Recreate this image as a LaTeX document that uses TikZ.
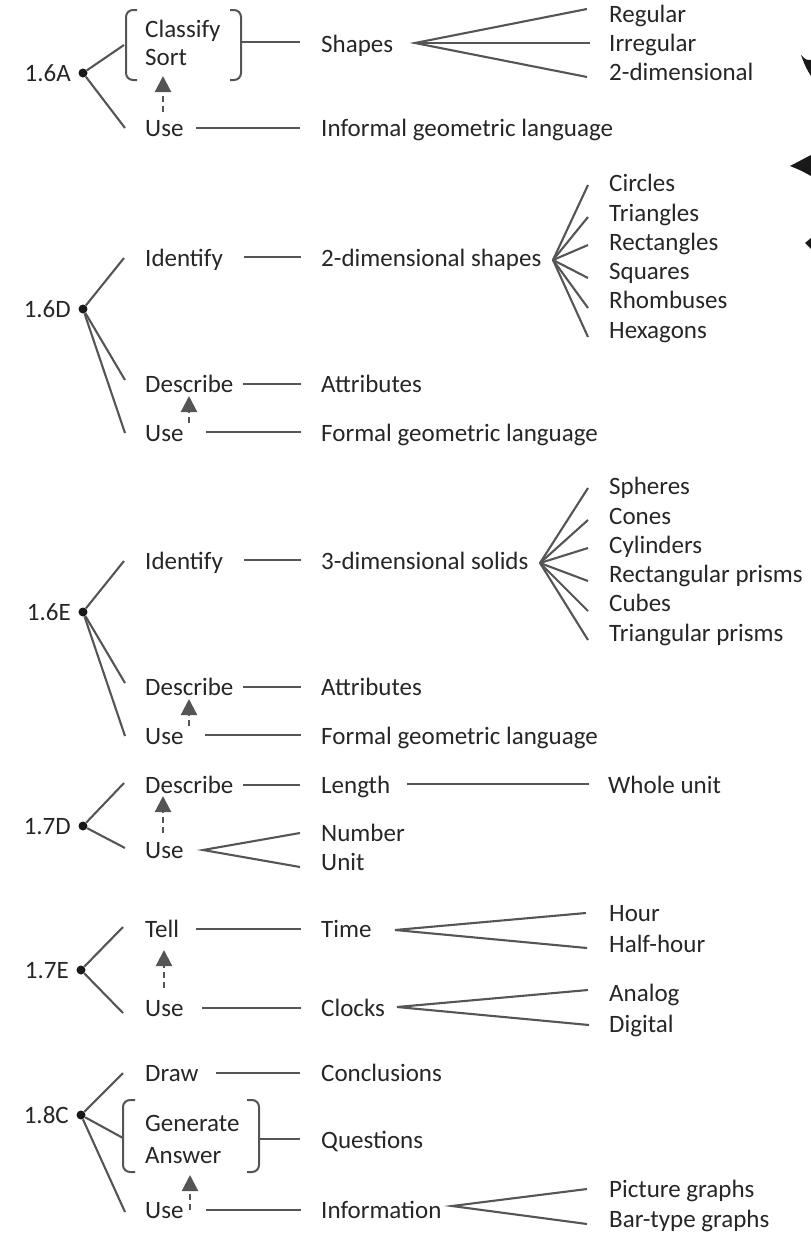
\documentclass[tikz,border=0pt]{standalone}
\usepackage{fontspec}
\setmainfont{Carlito}
\usetikzlibrary{arrows.meta}
\definecolor{txt}{HTML}{262626}
\definecolor{ln}{HTML}{555555}
\begin{document}
\begin{tikzpicture}[x=1pt,y=-1pt,
  lbl/.style={anchor=mid west, inner sep=0pt, yshift=-6pt, text=txt, font=\fontsize{25}{30}\selectfont},
  code/.style={anchor=mid east, inner sep=0pt, yshift=-6pt, text=txt, font=\fontsize{25}{30}\selectfont},
  conn/.style={draw=ln, line width=2.1pt},
  brk/.style={draw=ln, line width=2pt, rounded corners=7pt},
  dep/.style={draw=ln, line width=2.2pt, dash pattern=on 6pt off 4pt, -{Triangle[width=16pt,length=16pt]}},
  hub/.style={circle, fill=black!90, inner sep=0pt, minimum size=9pt},
  blot/.style={fill=black!90}]
\path[use as bounding box] (0,0) rectangle (811,1234);

% ================= 1.6A =================
\node[code] (c16a) at (71,73) {1.6A};
\node[hub] (h16a) at (83,73) {};
\node[lbl] (classify) at (145,29) {Classify};
\node[lbl] (sort) at (145,57) {Sort};
\node[lbl] (useA) at (145,128) {Use};
\node[lbl] (shapes) at (321,44) {Shapes};
\node[lbl] (informal) at (321,128) {Informal geometric language};
\node[lbl] (regular) at (609,14) {Regular};
\node[lbl] (irregular) at (609,43) {Irregular};
\node[lbl] (twodim) at (609,72) {2-dimensional};
\draw[brk] (137,10) -- (126,10) -- (126,80) -- (137,80);
\draw[brk] (230,10) -- (241,10) -- (241,80) -- (230,80);
\coordinate (bAl) at (124,45);
\coordinate (bAr) at (241,42);
\coordinate (useAl) at (125,128);
\coordinate (useAr) at (196,128);
\coordinate (infA) at (300,128);
\coordinate (shA) at (300,42);
\coordinate (fanA) at (415,43);
\coordinate (regA) at (587,9);
\coordinate (irrA) at (590,43);
\coordinate (twoA) at (587,77);
\draw[conn] (h16a) -- (bAl);
\draw[conn] (h16a) -- (useAl);
\draw[conn] (bAr) -- (shA);
\draw[conn] (useAr) -- (infA);
\draw[conn] (regA) -- (fanA) -- (twoA);
\draw[conn] (fanA) -- (irrA);
\coordinate (arAb) at (163,112);
\coordinate (arAt) at (163,76);
\draw[dep] (arAb) -- (arAt);

% ================= 1.6D =================
\node[code] (c16d) at (71,309) {1.6D};
\node[hub] (h16d) at (83,309) {};
\node[lbl] (identD) at (145,258) {Identify};
\node[lbl] (descD) at (145,384) {Describe};
\node[lbl] (useD) at (145,433) {Use};
\node[lbl] (twoshapes) at (321,258) {2-dimensional shapes};
\node[lbl] (attrD) at (321,384) {Attributes};
\node[lbl] (formalD) at (321,433) {Formal geometric language};
\node[lbl] (circles) at (609,183) {Circles};
\node[lbl] (triangles) at (609,213) {Triangles};
\node[lbl] (rectangles) at (609,242) {Rectangles};
\node[lbl] (squares) at (609,271) {Squares};
\node[lbl] (rhombuses) at (609,300) {Rhombuses};
\node[lbl] (hexagons) at (609,330) {Hexagons};
\coordinate (idDl) at (124,258);
\coordinate (deDl) at (125,380);
\coordinate (usDl) at (125,433);
\draw[conn] (h16d) -- (idDl);
\draw[conn] (h16d) -- (deDl);
\draw[conn] (h16d) -- (usDl);
\coordinate (idDr) at (244,257);
\coordinate (tsD) at (301,257);
\draw[conn] (idDr) -- (tsD);
\coordinate (deDr) at (243,384);
\coordinate (atD) at (301,384);
\draw[conn] (deDr) -- (atD);
\coordinate (usDr) at (206,432);
\coordinate (fmD) at (301,432);
\draw[conn] (usDr) -- (fmD);
\coordinate (fanD) at (553,260);
\foreach \yy/\nm in {185/d1,217/d2,245/d3,278/d4,308/d5,337/d6}{
  \coordinate (\nm) at (588,\yy);
  \draw[conn] (fanD) -- (\nm);
}
\coordinate (arDb) at (189,423);
\coordinate (arDt) at (189,396);
\draw[dep] (arDb) -- (arDt);

% ================= 1.6E =================
\node[code] (c16e) at (71,612) {1.6E};
\node[hub] (h16e) at (83,612) {};
\node[lbl] (identE) at (145,561) {Identify};
\node[lbl] (descE) at (145,687) {Describe};
\node[lbl] (useE) at (145,736) {Use};
\node[lbl] (threesolids) at (321,561) {3-dimensional solids};
\node[lbl] (attrE) at (321,687) {Attributes};
\node[lbl] (formalE) at (321,736) {Formal geometric language};
\node[lbl] (spheres) at (609,486) {Spheres};
\node[lbl] (cones) at (609,516) {Cones};
\node[lbl] (cylinders) at (609,545) {Cylinders};
\node[lbl] (rprisms) at (609,574) {Rectangular prisms};
\node[lbl] (cubes) at (609,603) {Cubes};
\node[lbl] (tprisms) at (609,633) {Triangular prisms};
\coordinate (idEl) at (124,561);
\coordinate (deEl) at (125,683);
\coordinate (usEl) at (125,736);
\draw[conn] (h16e) -- (idEl);
\draw[conn] (h16e) -- (deEl);
\draw[conn] (h16e) -- (usEl);
\coordinate (idEr) at (244,560);
\coordinate (tsE) at (301,560);
\draw[conn] (idEr) -- (tsE);
\coordinate (deEr) at (243,687);
\coordinate (atE) at (301,687);
\draw[conn] (deEr) -- (atE);
\coordinate (usEr) at (205,735);
\coordinate (fmE) at (301,735);
\draw[conn] (usEr) -- (fmE);
\coordinate (fanE) at (540,563);
\foreach \yy/\nm in {488/e1,520/e2,548/e3,581/e4,611/e5,640/e6}{
  \coordinate (\nm) at (588,\yy);
  \draw[conn] (fanE) -- (\nm);
}
\coordinate (arEb) at (189,726);
\coordinate (arEt) at (189,699);
\draw[dep] (arEb) -- (arEt);

% ================= 1.7D =================
\node[code] (c17d) at (71,826) {1.7D};
\node[hub] (h17d) at (83,826) {};
\node[lbl] (descF) at (145,785) {Describe};
\node[lbl] (useF) at (145,850) {Use};
\node[lbl] (length) at (321,785) {Length};
\node[lbl] (wholeunit) at (608,785) {Whole unit};
\node[lbl] (number) at (321,833) {Number};
\node[lbl] (unit) at (321,862) {Unit};
\coordinate (deFl) at (124,783);
\coordinate (usFl) at (125,848);
\draw[conn] (h17d) -- (deFl);
\draw[conn] (h17d) -- (usFl);
\coordinate (deFr) at (243,785);
\coordinate (lnF) at (300,785);
\draw[conn] (deFr) -- (lnF);
\coordinate (lenr) at (407,784);
\coordinate (whF) at (589,784);
\draw[conn] (lenr) -- (whF);
\coordinate (fanF) at (203,850);
\coordinate (numF) at (300,833);
\coordinate (unF) at (300,867);
\draw[conn] (numF) -- (fanF) -- (unF);
\coordinate (arFb) at (163,833);
\coordinate (arFt) at (163,796);
\draw[dep] (arFb) -- (arFt);

% ================= 1.7E =================
\node[code] (c17e) at (69,970) {1.7E};
\node[hub] (h17e) at (81,970) {};
\node[lbl] (tell) at (145,929) {Tell};
\node[lbl] (useG) at (145,1008) {Use};
\node[lbl] (time) at (321,929) {Time};
\node[lbl] (clocks) at (321,1008) {Clocks};
\node[lbl] (hour) at (609,913) {Hour};
\node[lbl] (halfhour) at (609,944) {Half-hour};
\node[lbl] (analog) at (609,993) {Analog};
\node[lbl] (digital) at (609,1024) {Digital};
\coordinate (teGl) at (123,927);
\coordinate (usGl) at (123,1013);
\draw[conn] (h17e) -- (teGl);
\draw[conn] (h17e) -- (usGl);
\coordinate (teGr) at (196,929);
\coordinate (tiG) at (301,929);
\draw[conn] (teGr) -- (tiG);
\coordinate (usGr) at (202,1008);
\coordinate (clG) at (301,1008);
\draw[conn] (usGr) -- (clG);
\coordinate (fanT) at (395,930);
\coordinate (hoG) at (586,913);
\coordinate (haG) at (587,948);
\draw[conn] (hoG) -- (fanT) -- (haG);
\coordinate (fanC) at (397,1007);
\coordinate (anG) at (588,990);
\coordinate (diG) at (589,1025);
\draw[conn] (anG) -- (fanC) -- (diG);
\coordinate (arGb) at (164,988);
\coordinate (arGt) at (164,950);
\draw[dep] (arGb) -- (arGt);

% ================= 1.8C =================
\node[code] (c18c) at (69,1115) {1.8C};
\node[hub] (h18c) at (81,1115) {};
\node[lbl] (draw) at (145,1073) {Draw};
\node[lbl] (generate) at (145,1123) {Generate};
\node[lbl] (answer) at (145,1155) {Answer};
\node[lbl] (useH) at (145,1210) {Use};
\node[lbl] (conclusions) at (321,1073) {Conclusions};
\node[lbl] (questions) at (321,1140) {Questions};
\node[lbl] (information) at (321,1210) {Information};
\node[lbl] (picgraphs) at (609,1189) {Picture graphs};
\node[lbl] (bargraphs) at (609,1219) {Bar-type graphs};
\draw[brk] (135,1100) -- (123,1100) -- (123,1172) -- (135,1172);
\draw[brk] (247,1100) -- (259,1100) -- (259,1172) -- (247,1172);
\coordinate (drHl) at (123,1073);
\coordinate (bHl) at (123,1138);
\coordinate (usHl) at (125,1212);
\draw[conn] (h18c) -- (drHl);
\draw[conn] (h18c) -- (bHl);
\draw[conn] (h18c) -- (usHl);
\coordinate (drHr) at (216,1073);
\coordinate (coH) at (300,1073);
\draw[conn] (drHr) -- (coH);
\coordinate (bHr) at (259,1139);
\coordinate (quH) at (300,1139);
\draw[conn] (bHr) -- (quH);
\coordinate (usHr) at (206,1210);
\coordinate (inH) at (301,1210);
\draw[conn] (usHr) -- (inH);
\coordinate (fanI) at (452,1206);
\coordinate (piH) at (587,1189);
\coordinate (baH) at (587,1224);
\draw[conn] (piH) -- (fanI) -- (baH);
\coordinate (arHb) at (190,1210);
\coordinate (arHt) at (190,1175);
\draw[dep] (arHb) -- (arHt);

% ================= edge blots =================
\fill[blot] (801,55) .. controls (806,60) .. (811,60) -- (811,76) .. controls (806,68) .. (801,55) -- cycle;
\fill[blot] (790,166) .. controls (800,160) .. (811,155) -- (811,176) .. controls (800,170) .. (790,166) -- cycle;
\fill[blot] (805,243) .. controls (808,240) .. (811,238) -- (811,249) .. controls (808,246) .. (805,243) -- cycle;
\end{tikzpicture}
\end{document}
